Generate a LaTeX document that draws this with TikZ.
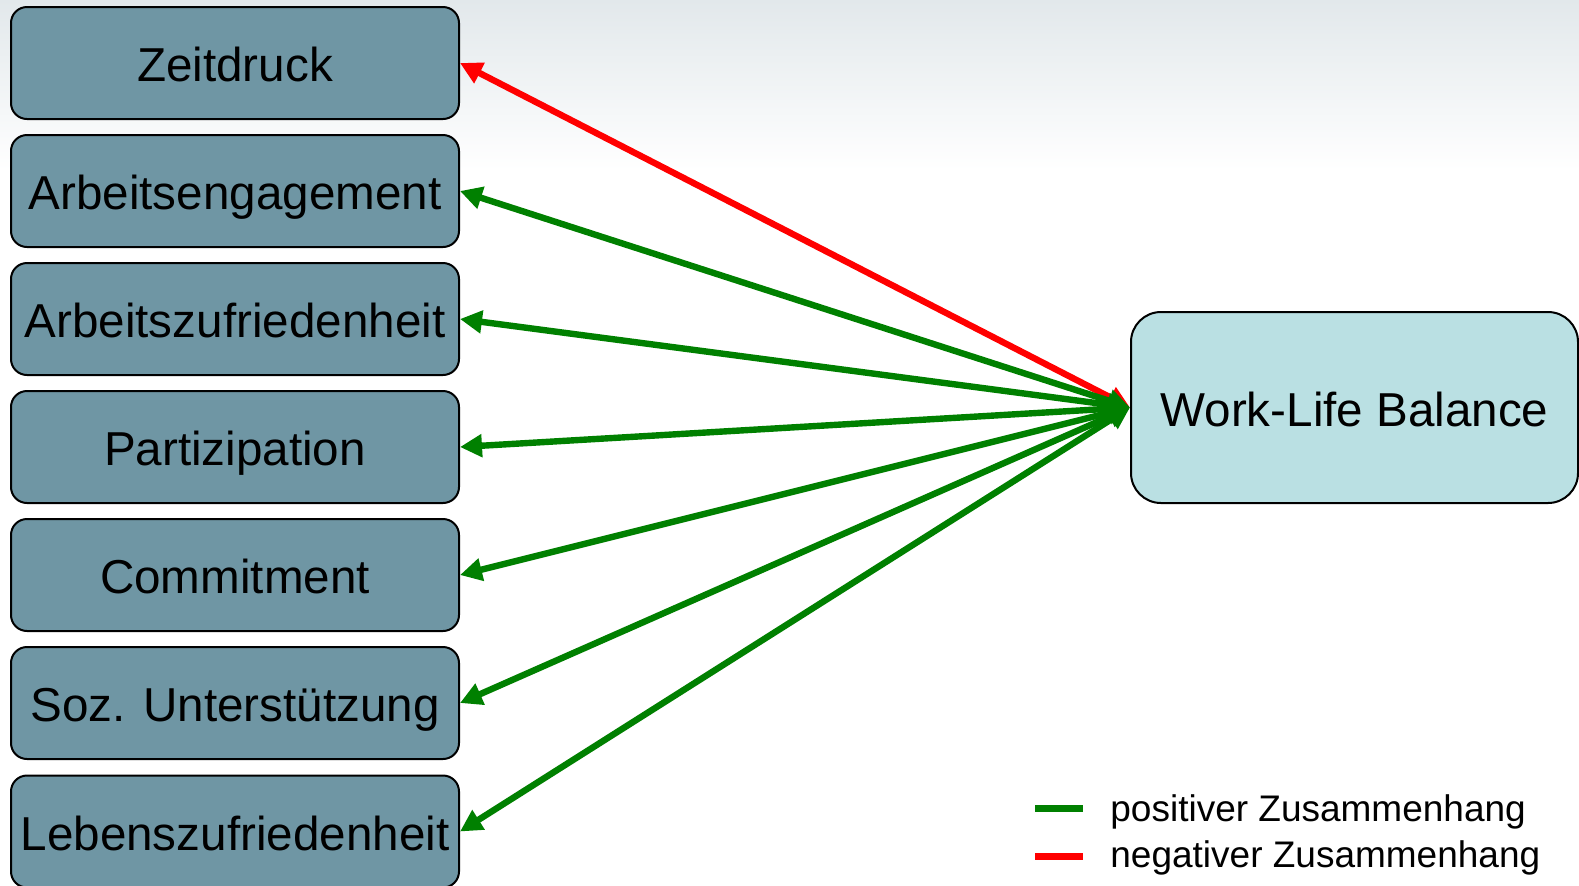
\documentclass[tikz,border=0pt]{standalone}
\usepackage{fontspec}
\setmainfont{Liberation Sans}
\usetikzlibrary{arrows.meta, positioning}

\definecolor{factorfill}{HTML}{6F96A4}
\definecolor{wlbfill}{HTML}{BAE0E3}
\definecolor{posgreen}{HTML}{008000}
\definecolor{negred}{HTML}{FF0000}
\definecolor{bgtop}{HTML}{E2E8EB}

\begin{document}
\begin{tikzpicture}[
  x=0.5pt, y=-0.5pt,
  factor/.style={draw, fill=factorfill, rounded corners=8pt, line width=1pt,
                 minimum width=224pt, minimum height=56pt, inner sep=0pt,
                 text height=21.4pt, text depth=2.9pt,
                 font=\fontsize{23.8}{28}\selectfont},
  outcome/.style={draw, fill=wlbfill, rounded corners=15pt, line width=1pt,
                  minimum width=223.5pt, minimum height=95.5pt, inner sep=0pt,
                  text height=21.4pt, text depth=2.9pt,
                  font=\fontsize{23.8}{28}\selectfont},
  link/.style={{Triangle[length=11pt, width=11pt]}-{Triangle[length=11pt, width=11pt]},
               line width=3.2pt},
  poslink/.style={link, draw=posgreen, fill=posgreen},
  neglink/.style={link, draw=negred, fill=negred},
  legline/.style={line width=3.5pt},
  legtext/.style={anchor=base west, inner sep=0pt,
                  font=\fontsize{18.5}{22}\selectfont}
]

%% ---------- background ----------
\useasboundingbox (0,0) rectangle (1579,885);
\fill[white] (0,0) rectangle (1579,885);
\shade[top color=bgtop, bottom color=white] (0,0) rectangle (1579,170);

%% ---------- left: factors ----------
\node[factor] (zeit)   at (235,63)    {Zeitdruck};
\node[factor] (engage) at (235,191)   {Arbeitsengagement};
\node[factor] (azufr)  at (235,319)   {Arbeitszufriedenheit};
\node[factor] (partiz) at (235,447)   {Partizipation};
\node[factor] (commit) at (235,575)   {Commitment};
\node[factor] (sozunt) at (235,703)   {Soz. Unterstützung};
\node[factor] (lzufr)  at (235,831.5) {Lebenszufriedenheit};

%% ---------- right: outcome ----------
\node[outcome] (wlb) at (1354.5,407.5) {Work-Life Balance};

%% ---------- links ----------
\draw[neglink] (wlb.west) -- (zeit.east);
\draw[poslink] (wlb.west) -- (engage.east);
\draw[poslink] (wlb.west) -- (azufr.east);
\draw[poslink] (wlb.west) -- (partiz.east);
\draw[poslink] (wlb.west) -- (commit.east);
\draw[poslink] (wlb.west) -- (sozunt.east);
\draw[poslink] (wlb.west) -- (lzufr.east);

%% ---------- legend ----------
\coordinate (posA) at (1035,808);
\coordinate (posB) at (1083,808);
\coordinate (negA) at (1035,856);
\coordinate (negB) at (1083,856);
\draw[legline, posgreen] (posA) -- (posB);
\draw[legline, negred] (negA) -- (negB);
\node[legtext] (postext) at (1110,821) {positiver Zusammenhang};
\node[legtext] (negtext) at (1110,867) {negativer Zusammenhang};
\end{tikzpicture}
\end{document}
